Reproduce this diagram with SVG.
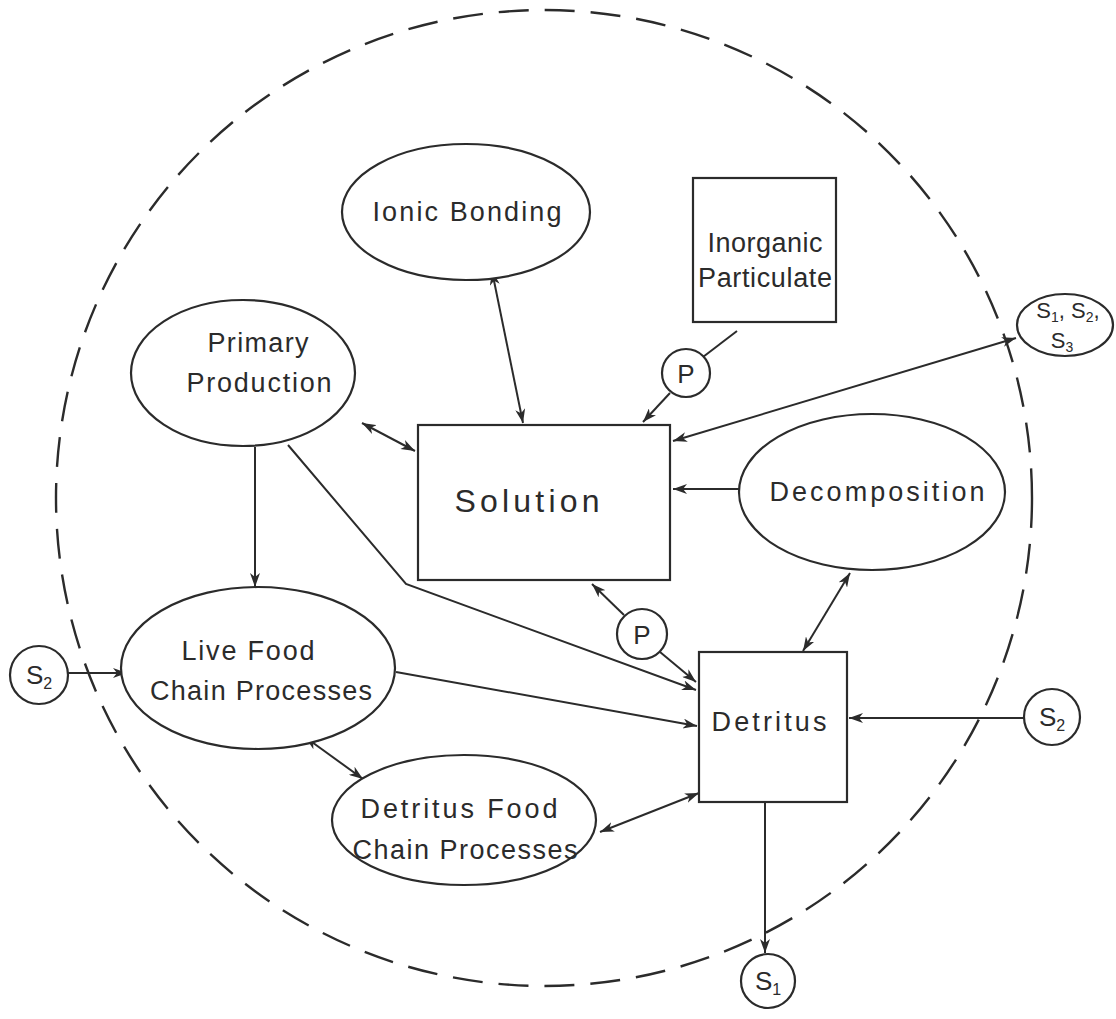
<svg xmlns="http://www.w3.org/2000/svg" width="1116" height="1019" viewBox="0 0 1116 1019">
  <defs>
    <marker id="arrow" viewBox="0 0 14 10" refX="14" refY="5" markerWidth="14" markerHeight="10" markerUnits="userSpaceOnUse" orient="auto-start-reverse">
      <path d="M0,0 L14,5 L0,10 L4,5 Z" fill="#2b2b2b"/>
    </marker>
    <style>
      .shape { fill: #ffffff; stroke: #2b2b2b; stroke-width: 2.2; }
      .line { fill: none; stroke: #2b2b2b; stroke-width: 2; }
      .one { marker-end: url(#arrow); }
      .two { marker-start: url(#arrow); marker-end: url(#arrow); }
      .boundary { fill: none; stroke: #2b2b2b; stroke-width: 2.4; stroke-dasharray: 30 16; }
      text { font-family: "Liberation Sans", Arial, sans-serif; fill: #2b2b2b; text-anchor: middle; }
      .lbl { font-size: 27px; }
      .big { font-size: 32px; }
      .sym { font-size: 26px; }
      .tiny { font-size: 22px; }
    </style>
  </defs>

  <rect width="1116" height="1019" fill="#ffffff"/>

  <!-- system boundary -->
  <circle class="boundary" cx="544" cy="498" r="488"/>

  <!-- connectors -->
  <g id="connectors">
    <line class="line two" x1="492" y1="271" x2="523" y2="423"/>
    <line class="line" x1="737" y1="331" x2="703" y2="357"/>
    <line class="line one" x1="670" y1="393" x2="643" y2="422"/>
    <line class="line two" x1="1016" y1="338" x2="673" y2="441"/>
    <line class="line one" x1="740" y1="489" x2="673" y2="489"/>
    <line class="line two" x1="362" y1="423" x2="415" y2="451"/>
    <line class="line one" x1="255" y1="447" x2="255" y2="587"/>
    <polyline class="line one" points="288,445 406,584 696,690"/>
    <line class="line one" x1="624" y1="615" x2="592" y2="584"/>
    <line class="line one" x1="660" y1="652" x2="696" y2="682"/>
    <line class="line two" x1="850" y1="573" x2="803" y2="651"/>
    <line class="line one" x1="396" y1="672" x2="697" y2="726"/>
    <line class="line one" x1="1024" y1="718" x2="849" y2="718"/>
    <line class="line one" x1="68" y1="673" x2="127" y2="673"/>
    <line class="line two" x1="305" y1="737" x2="363" y2="779"/>
    <line class="line two" x1="600" y1="832" x2="699" y2="793"/>
    <line class="line one" x1="765" y1="803" x2="765" y2="953"/>
  </g>

  <g id="ionic-bonding">
    <ellipse class="shape" cx="466" cy="212" rx="124" ry="68"/>
    <text class="lbl" x="467" y="221" textLength="189">Ionic Bonding</text>
  </g>

  <g id="inorganic-particulate">
    <rect class="shape" x="693" y="178" width="143" height="144"/>
    <text class="lbl" x="765" y="252" textLength="115">Inorganic</text>
    <text class="lbl" x="765" y="287" textLength="134">Particulate</text>
  </g>

  <g id="s123-sink">
    <ellipse class="shape" cx="1065" cy="325" rx="48" ry="31"/>
    <text class="tiny" x="1068" y="318">S<tspan font-size="14" dy="4">1</tspan><tspan dy="-4">, S</tspan><tspan font-size="14" dy="4">2</tspan><tspan dy="-4">,</tspan></text>
    <text class="tiny" x="1062" y="348">S<tspan font-size="14" dy="4">3</tspan></text>
  </g>

  <g id="primary-production">
    <ellipse class="shape" cx="243" cy="373" rx="112" ry="73"/>
    <text class="lbl" x="258" y="352" textLength="101">Primary</text>
    <text class="lbl" x="259" y="392" textLength="145">Production</text>
  </g>

  <g id="solution">
    <rect class="shape" x="418" y="425" width="252" height="155"/>
    <text class="big" x="527" y="512" textLength="145">Solution</text>
  </g>

  <g id="decomposition">
    <ellipse class="shape" cx="872" cy="492" rx="133" ry="78"/>
    <text class="lbl" x="877" y="501" textLength="215">Decomposition</text>
  </g>

  <g id="p-upper">
    <circle class="shape" cx="686" cy="373" r="24"/>
    <text class="sym" x="686" y="383">P</text>
  </g>

  <g id="p-lower">
    <circle class="shape" cx="642" cy="634" r="25"/>
    <text class="sym" x="642" y="644">P</text>
  </g>

  <g id="live-food-chain">
    <ellipse class="shape" cx="258" cy="668" rx="137" ry="81"/>
    <text class="lbl" x="248" y="660" textLength="133">Live Food</text>
    <text class="lbl" x="261" y="700" textLength="222">Chain Processes</text>
  </g>

  <g id="detritus">
    <rect class="shape" x="699" y="652" width="148" height="150"/>
    <text class="lbl" x="769" y="731" textLength="115">Detritus</text>
  </g>

  <g id="detritus-food-chain">
    <ellipse class="shape" cx="464" cy="820" rx="132" ry="65"/>
    <text class="lbl" x="459" y="818" textLength="197">Detritus Food</text>
    <text class="lbl" x="465" y="859" textLength="225">Chain Processes</text>
  </g>

  <g id="s2-left">
    <circle class="shape" cx="39" cy="675" r="29"/>
    <text class="sym" x="39" y="684">S<tspan font-size="16" dy="5">2</tspan></text>
  </g>

  <g id="s2-right">
    <circle class="shape" cx="1052" cy="717" r="28"/>
    <text class="sym" x="1052" y="726">S<tspan font-size="16" dy="5">2</tspan></text>
  </g>

  <g id="s1-bottom">
    <circle class="shape" cx="768" cy="981" r="27"/>
    <text class="sym" x="768" y="990">S<tspan font-size="16" dy="5">1</tspan></text>
  </g>
</svg>
